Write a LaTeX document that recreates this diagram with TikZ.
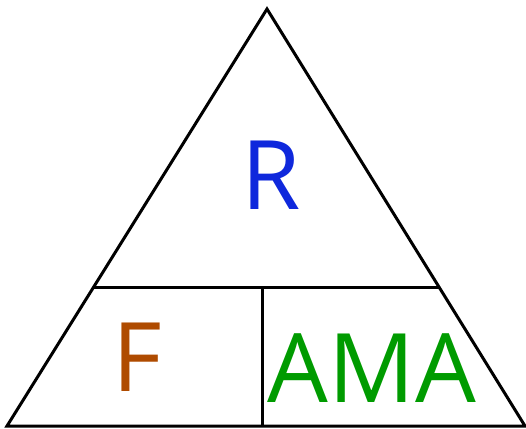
\documentclass[tikz,border=0pt]{standalone}
\usepackage{fontspec}
\setmainfont{Open Sans}
\usepackage{tikz}
\usetikzlibrary{positioning, calc}
\definecolor{ratioblue}{RGB}{15, 40, 220}
\definecolor{forcebrown}{RGB}{175, 75, 0}
\definecolor{amagreen}{RGB}{0, 155, 0}

\begin{document}
\begin{tikzpicture}[x=1pt, y=-1pt, line width=3pt,
    bigtext/.style={inner sep=0pt, anchor=base, font=\fontsize{96}{96}\selectfont}]
  \useasboundingbox (0,0) rectangle (526,428);
  % outer triangle
  \coordinate (top) at (267,9);
  \coordinate (bl) at (7,426);
  \coordinate (br) at (525,426);
  \draw[line join=miter] (bl) -- (top) -- (br) -- cycle;
  % dividers
  \coordinate (ml) at ($(bl)!0.331!(top)$);
  \coordinate (mr) at ($(br)!0.331!(top)$);
  \coordinate (mid) at (262,288);
  \coordinate (bot) at (262,426);
  \draw (ml) -- (mr);
  \draw (mid) -- (bot);
  % labels
  \node[bigtext, ratioblue] (ratio) at (271,209) {R};
  \node[bigtext, forcebrown] (force) at (137,391) {F};
  \node[bigtext, amagreen] (ama) at (372,402) {AMA};
\end{tikzpicture}
\end{document}
